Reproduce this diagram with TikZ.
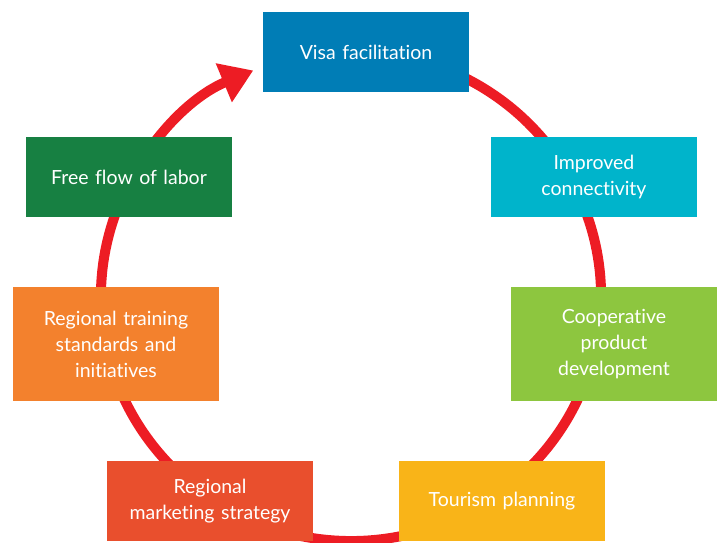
\documentclass[tikz,border=0pt]{standalone}
\usepackage{fontspec}
\setmainfont[Ligatures=NoCommon]{Lato}
\usetikzlibrary{arrows.meta}

\definecolor{visablue}{RGB}{0,125,182}
\definecolor{connectcyan}{RGB}{0,180,203}
\definecolor{coopgreen}{RGB}{141,198,63}
\definecolor{touryellow}{RGB}{249,180,24}
\definecolor{marketred}{RGB}{233,79,45}
\definecolor{trainorange}{RGB}{243,129,45}
\definecolor{laborgreen}{RGB}{23,128,66}
\definecolor{ringred}{RGB}{237,28,36}

\begin{document}
\begin{tikzpicture}[
    x=1pt, y=1pt,
    box/.style={rectangle, minimum width=206pt, minimum height=80pt, inner sep=0pt,
        text width=200pt, align=center, text=white, font=\fontsize{19.5}{26}\selectfont},
    tallbox/.style={box, minimum height=114pt},
    ring/.style={draw=ringred, line width=10pt, -{Triangle[length=32pt, width=40pt]}}
]
    \useasboundingbox (0,0) rectangle (718,-543);
    \coordinate (ringc) at (351,-296);
    \draw[ring] (ringc) ++(75:250 and 245)
        arc[start angle=75, end angle=-247, x radius=250, y radius=245];

    \node[box, fill=visablue] (visa) at (366,-52.5) {Visa facilitation};
    \node[box, fill=connectcyan] (connect) at (594,-177) {Improved\\connectivity};
    \node[tallbox, fill=coopgreen] (coop) at (614,-344) {Cooperative\\product\\development};
    \node[box, fill=touryellow] (tourism) at (502,-501) {Tourism planning};
    \node[box, fill=marketred] (market) at (210,-501) {Regional\\marketing strategy};
    \node[tallbox, fill=trainorange] (train) at (116,-344) {Regional training\\standards and\\initiatives};
    \node[box, fill=laborgreen] (labor) at (129,-177) {Free flow of labor};
\end{tikzpicture}
\end{document}
